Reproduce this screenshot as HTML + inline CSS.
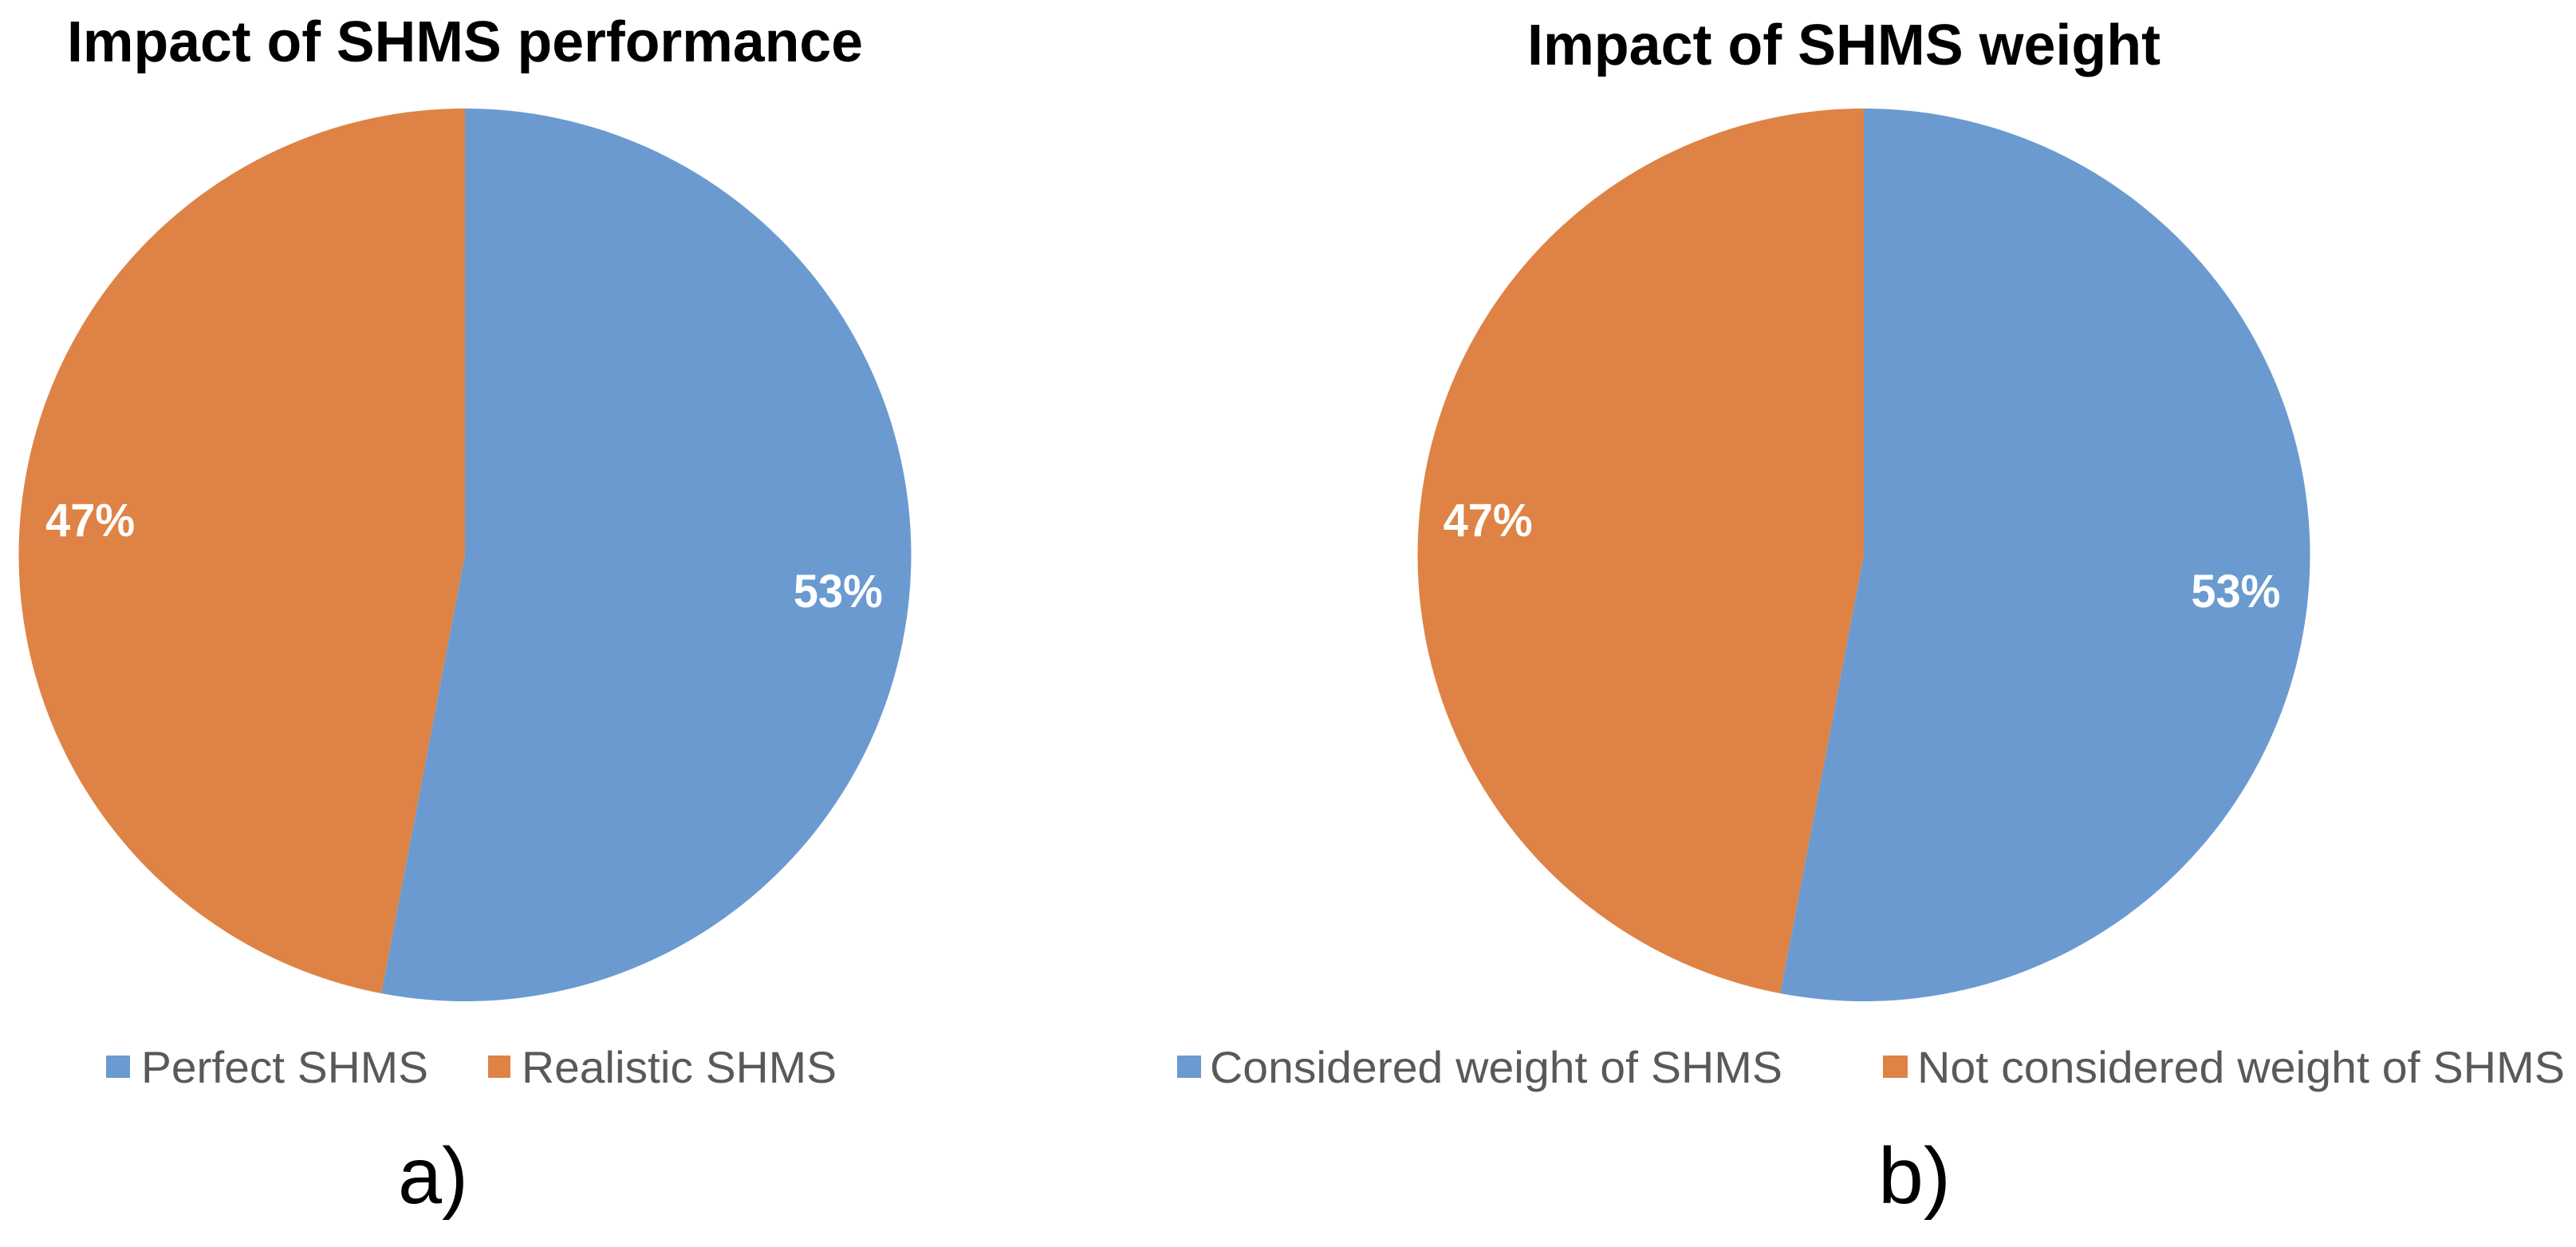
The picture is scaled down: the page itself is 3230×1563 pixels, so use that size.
<!DOCTYPE html>
<html lang="en">
<head>
<meta charset="utf-8">
<title>Impact of SHMS performance and weight</title>
<style>
  html, body { margin: 0; padding: 0; background: #ffffff; }
  svg { display: block; font-family: "Liberation Sans", Arial, sans-serif; }
  .title { font-size: 72px; font-weight: bold; fill: #000000; }
  .legend { font-size: 56px; fill: #595959; }
  .caption { font-size: 100px; fill: #000000; }
  .value { font-size: 58px; font-weight: bold; fill: #ffffff; text-anchor: middle; }
</style>
</head>
<body>
<svg id="figure" xmlns="http://www.w3.org/2000/svg" width="3230" height="1563" viewBox="0 0 3230 1563">
  <rect x="0" y="0" width="3230" height="1563" fill="#ffffff"/>

  <g id="panel-a">
    <text class="title" x="84" y="77" textLength="998" lengthAdjust="spacingAndGlyphs">Impact of SHMS performance</text>
    <g id="pie-a"></g>
    <g>
      <rect x="133" y="1323" width="30" height="28" fill="#6b9ad0"/>
      <text class="legend" x="177" y="1357" textLength="360" lengthAdjust="spacingAndGlyphs">Perfect SHMS</text>
      <rect x="612" y="1323" width="28" height="28" fill="#de8345"/>
      <text class="legend" x="654" y="1357" textLength="395" lengthAdjust="spacingAndGlyphs">Realistic SHMS</text>
    </g>
    <text class="caption" x="499" y="1508" textLength="88" lengthAdjust="spacingAndGlyphs">a)</text>
  </g>

  <g id="panel-b">
    <text class="title" x="1915" y="81" textLength="794" lengthAdjust="spacingAndGlyphs">Impact of SHMS weight</text>
    <g id="pie-b"></g>
    <g>
      <rect x="1476" y="1323" width="30" height="28" fill="#6b9ad0"/>
      <text class="legend" x="1517" y="1357" textLength="718" lengthAdjust="spacingAndGlyphs">Considered weight of SHMS</text>
      <rect x="2361" y="1323" width="31" height="28" fill="#de8345"/>
      <text class="legend" x="2404" y="1357" textLength="812" lengthAdjust="spacingAndGlyphs">Not considered weight of SHMS</text>
    </g>
    <text class="caption" x="2355" y="1508" textLength="91" lengthAdjust="spacingAndGlyphs">b)</text>
  </g>
</svg>

<script>
  var performanceCategories = ['Perfect SHMS', 'Realistic SHMS'];
  var performanceValues = [53, 47];
  var weightCategories = ['Considered weight of SHMS', 'Not considered weight of SHMS'];
  var weightValues = [53, 47];

  var SVG_NS = 'http://www.w3.org/2000/svg';
  var sliceColors = ['#6b9ad0', '#de8345'];
  var pieRadius = 559.5;
  var labelRadius = 471;
  var pieCenterY = 695.5;

  function polar(cx, cy, r, fraction) {
    var angle = fraction * 2 * Math.PI;
    return [cx + r * Math.sin(angle), cy - r * Math.cos(angle)];
  }

  function slug(text) {
    return text.toLowerCase().replace(/[^a-z0-9]+/g, '-');
  }

  function drawPie(groupId, cx, labelShift, categories, values) {
    var group = document.getElementById(groupId);
    var total = values.reduce(function (sum, v) { return sum + v; }, 0);
    var labels = [];
    var running = 0;
    values.forEach(function (value, i) {
      var start = running / total;
      var end = (running + value) / total;
      var p0 = polar(cx, pieCenterY, pieRadius, start);
      var p1 = polar(cx, pieCenterY, pieRadius, end);
      var large = end - start > 0.5 ? 1 : 0;
      var path = document.createElementNS(SVG_NS, 'path');
      path.setAttribute('d', 'M' + cx + ' ' + pieCenterY + ' L' + p0[0] + ' ' + p0[1] +
        ' A' + pieRadius + ' ' + pieRadius + ' 0 ' + large + ' 1 ' + p1[0] + ' ' + p1[1] + ' Z');
      path.setAttribute('fill', sliceColors[i % sliceColors.length]);
      
      
      group.appendChild(path);

      var mid = polar(cx, pieCenterY, labelRadius, (start + end) / 2);
      var label = document.createElementNS(SVG_NS, 'text');
      label.setAttribute('class', 'value');
      label.setAttribute('x', mid[0] + labelShift);
      label.setAttribute('y', mid[1] + 21);
      label.setAttribute('textLength', 112);
      label.setAttribute('lengthAdjust', 'spacingAndGlyphs');
      
      
      label.textContent = Math.round(value / total * 100) + '%';
      labels.push(label);
      running += value;
    });
    labels.forEach(function (label) { group.appendChild(label); });
  }

  drawPie('pie-a', 583, -1, performanceCategories, performanceValues);
  drawPie('pie-b', 2337, -2.5, weightCategories, weightValues);
</script>
</body>
</html>
